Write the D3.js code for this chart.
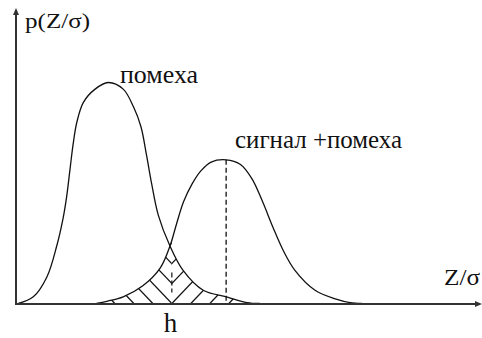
<!DOCTYPE html>
<html><head><meta charset="utf-8"><script src="https://cdn.jsdelivr.net/npm/d3@7"></script></head>
<body style="margin:0; background:#fff; font-family:'Liberation Serif', Times, serif">
<svg id="chart" width="482" height="338" style="display:block; font-family:'Liberation Serif', Times, serif"></svg>
<script>
// Noise density p(Z/σ) ("помеха")
const noiseZ = [0.05, 0.37, 0.66, 0.87, 1.01, 1.08, 1.15, 1.22, 1.30, 1.44, 1.69, 1.97,
                2.29, 2.51, 2.67, 2.79, 2.90, 3.04, 3.29, 3.57, 4.00, 4.50, 4.93, 5.21];
const noiseP = [0.00, 0.03, 0.12, 0.26, 0.39, 0.48, 0.60, 0.72, 0.82, 0.91, 0.97, 1.00,
                0.97, 0.89, 0.80, 0.67, 0.54, 0.40, 0.26, 0.15, 0.06, 0.03, 0.004, 0.00];

// Signal + noise density ("сигнал +помеха")
const signalZ = [1.72, 1.94, 2.29, 2.71, 3.08, 3.29, 3.43, 3.58, 3.76, 3.95, 4.17, 4.49,
                 4.79, 5.04, 5.27, 5.49, 5.71, 5.96, 6.39, 6.84, 7.14, 7.39];
const signalP = [0.00, 0.01, 0.03, 0.08, 0.16, 0.26, 0.36, 0.46, 0.54, 0.60, 0.64, 0.65,
                 0.63, 0.565, 0.46, 0.345, 0.24, 0.15, 0.06, 0.02, 0.004, 0.00];

// Detection threshold h and the mean of the signal + noise density
const threshold = 3.33;
const signalMean = 4.49;

// Text labels
const yAxisLabel = "p(Z/σ)";
const xAxisLabel = "Z/σ";
const noiseLabel = "помеха";
const signalLabel = "сигнал +помеха";
const thresholdLabel = "h";

const svg = d3.select("#chart");
const x = d3.scaleLinear().domain([0, 10]).range([16, 484]);
const y = d3.scaleLinear().domain([0, 1]).range([303.5, 82.5]);

const noise = noiseZ.map((z, i) => ({ z, p: noiseP[i] }));
const signal = signalZ.map((z, i) => ({ z, p: signalP[i] }));

const curve = d3.curveCatmullRom.alpha(0.5);
const line = d3.line().x(d => x(d.z)).y(d => Math.min(y(d.p), y(0))).curve(curve);
const area = d3.area().x(d => x(d.z)).y0(y(0)).y1(d => y(d.p)).curve(curve);

const defs = svg.append("defs");
const xh = x(threshold);
const base = y(0);

// Clip regions: left of h under the signal curve, right of h under the noise curve
defs.append("clipPath").attr("id", "leftHalf")
  .append("rect").attr("x", 0).attr("y", 0).attr("width", xh).attr("height", 338);
defs.append("clipPath").attr("id", "rightHalf")
  .append("rect").attr("x", xh).attr("y", 0).attr("width", 482 - xh).attr("height", 338);
defs.append("clipPath").attr("id", "underSignal")
  .append("path").attr("d", area(signal));
defs.append("clipPath").attr("id", "underNoise")
  .append("path").attr("d", area(noise));

// Chevron hatching of the error regions
const step = 19, slope = 1.05, len = 200;
const ks = d3.range(-12, 13);
const hatchL = svg.append("g").attr("clip-path", "url(#leftHalf)")
  .append("g").attr("clip-path", "url(#underSignal)");
hatchL.selectAll("line").data(ks).join("line")
  .attr("x1", k => xh + k * step).attr("y1", base)
  .attr("x2", k => xh + k * step - len).attr("y2", base - slope * len)
  .attr("stroke", "#111").attr("stroke-width", 1.2);
const hatchR = svg.append("g").attr("clip-path", "url(#rightHalf)")
  .append("g").attr("clip-path", "url(#underNoise)");
hatchR.selectAll("line").data(ks).join("line")
  .attr("x1", k => xh - k * step).attr("y1", base)
  .attr("x2", k => xh - k * step + len).attr("y2", base - slope * len)
  .attr("stroke", "#111").attr("stroke-width", 1.2);

// Dashed marker at the threshold inside the hatched area
svg.append("line")
  .attr("x1", xh).attr("x2", xh).attr("y1", base - 31).attr("y2", base - 11)
  .attr("stroke", "#111").attr("stroke-width", 1.2).attr("stroke-dasharray", "5,3");

// Dashed line from the signal peak down to the axis
const peakP = signalP[signalZ.indexOf(signalMean)];
svg.append("line")
  .attr("x1", x(signalMean)).attr("x2", x(signalMean))
  .attr("y1", y(peakP)).attr("y2", base)
  .attr("stroke", "#111").attr("stroke-width", 1.3).attr("stroke-dasharray", "5,3");

// Density curves
svg.append("path").attr("d", line(noise))
  .attr("fill", "none").attr("stroke", "#111").attr("stroke-width", 1.3);
svg.append("path").attr("d", line(signal))
  .attr("fill", "none").attr("stroke", "#111").attr("stroke-width", 1.3);

// Axes with arrowheads
const axisColor = "#333";
svg.append("line").attr("x1", 16).attr("x2", 16).attr("y1", base + 0.5).attr("y2", 12)
  .attr("stroke", axisColor).attr("stroke-width", 2);
svg.append("path").attr("d", "M16,8 L13,15 L19,15 Z").attr("fill", axisColor);
svg.append("line").attr("x1", 15).attr("x2", 478).attr("y1", base + 0.5).attr("y2", base + 0.5)
  .attr("stroke", axisColor).attr("stroke-width", 2);
svg.append("path").attr("d", `M482,${base + 0.5} L475,${base - 2.5} L475,${base + 3.5} Z`).attr("fill", axisColor);

// Labels, inheriting the serif face from the svg element
const labels = [
  { txt: yAxisLabel, px: 25, py: 28, size: 21, width: 65 },
  { txt: xAxisLabel, px: 444, py: 285, size: 24, width: 36 },
  { txt: noiseLabel, px: 120, py: 83, size: 26, width: 78 },
  { txt: signalLabel, px: 235, py: 148, size: 26, width: 167 },
  { txt: thresholdLabel, px: xh - 8, py: 332, size: 27, width: null }
];
svg.append("g")
  .selectAll("text").data(labels).join("text")
  .attr("x", d => d.px).attr("y", d => d.py)
  .attr("font-size", d => d.size)
  .attr("fill", "#111")
  .attr("textLength", d => d.width)
  .attr("lengthAdjust", d => d.width ? "spacingAndGlyphs" : null)
  .text(d => d.txt);
</script>
</body></html>
